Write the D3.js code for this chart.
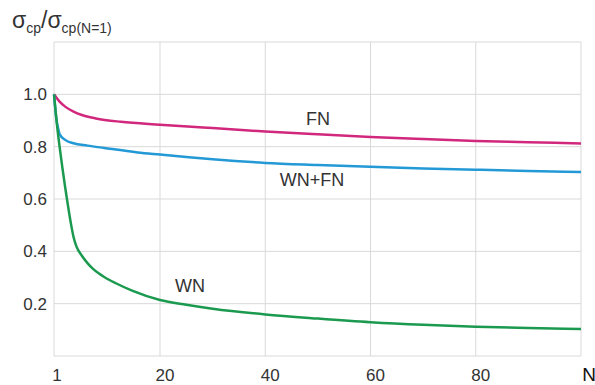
<!DOCTYPE html>
<html>
<head>
<meta charset="utf-8">
<script src="https://cdn.jsdelivr.net/npm/d3@7"></script>
<style>
  body { margin: 0; background: #fff; }
  text { font-family: "Liberation Sans", Arial, sans-serif; fill: #333; }
</style>
</head>
<body>
<div id="chart"></div>
<script>
// data
const xTicks = [1, 20, 40, 60, 80];
const yTicks = [0.2, 0.4, 0.6, 0.8, 1.0];

const nFN = [1, 2, 3, 4.5, 6, 8.5, 13, 20, 26, 30, 40, 50, 60, 70, 80, 90, 100];
const valFN = [1.0, 0.972, 0.953, 0.934, 0.921, 0.908, 0.895, 0.884, 0.876, 0.871, 0.858, 0.847, 0.837, 0.829, 0.822, 0.817, 0.812];

const nWNFN = [1, 1.4, 1.8, 2, 3, 4.5, 7, 10, 16, 20, 26, 30, 40, 50, 60, 70, 80, 90, 100];
const valWNFN = [1.0, 0.91, 0.865, 0.848, 0.826, 0.813, 0.804, 0.795, 0.778, 0.77, 0.759, 0.752, 0.738, 0.73, 0.723, 0.717, 0.712, 0.707, 0.703];

const nWN = [1, 1.5, 2, 2.5, 3, 3.5, 4, 4.5, 5, 6, 7, 8, 9, 10, 12, 15, 20, 25, 30, 40, 50, 60, 70, 80, 90, 100];
const valWN = [1.0, 0.89, 0.80, 0.72, 0.645, 0.575, 0.51, 0.455, 0.42, 0.383, 0.355, 0.333, 0.316, 0.302, 0.279, 0.25, 0.214, 0.196, 0.181, 0.159, 0.143, 0.129, 0.119, 0.112, 0.107, 0.103];

const width = 595, height = 385;

const svg = d3.select("#chart").append("svg")
  .attr("width", width)
  .attr("height", height);

// the origin is labelled 1, grid steps of 20 after that
const x = d3.scaleLinear().domain([1, 20, 100]).range([54, 160, 581]);
const y = d3.scaleLinear().domain([0, 1.2]).range([356, 42]);

const gridColor = "#d9d9d9";

// horizontal grid
svg.append("g").selectAll("line")
  .data([0, 0.2, 0.4, 0.6, 0.8, 1.0, 1.2])
  .enter().append("line")
  .attr("x1", x(1)).attr("x2", x(100))
  .attr("y1", d => y(d)).attr("y2", d => y(d))
  .attr("stroke", gridColor).attr("stroke-width", 1);

// vertical grid
svg.append("g").selectAll("line")
  .data([1, 20, 40, 60, 80, 100])
  .enter().append("line")
  .attr("x1", d => x(d)).attr("x2", d => x(d))
  .attr("y1", y(0)).attr("y2", y(1.2))
  .attr("stroke", gridColor).attr("stroke-width", 1);

// y tick labels
svg.append("g").selectAll("text")
  .data(yTicks)
  .enter().append("text")
  .attr("x", 47)
  .attr("y", d => y(d) + 6)
  .attr("text-anchor", "end")
  .style("font-size", "17px")
  .text(d => d.toFixed(1));

// x tick labels
svg.append("g").selectAll("text")
  .data(xTicks)
  .enter().append("text")
  .attr("x", d => d === 1 ? x(d) + 3 : x(d) + 5)
  .attr("y", 381)
  .attr("text-anchor", "middle")
  .style("font-size", "17px")
  .text(d => d);

svg.append("text")
  .attr("x", 589)
  .attr("y", 381)
  .attr("text-anchor", "middle")
  .style("font-size", "19px")
  .style("fill", "#111")
  .text("N");

// y title
const title = svg.append("text")
  .attr("x", 12)
  .attr("y", 28)
  .style("font-size", "23px");
title.append("tspan").text("σ");
title.append("tspan").attr("dy", 5).style("font-size", "14px").text("cp");
title.append("tspan").attr("dy", -5).text("/σ");
title.append("tspan").attr("dy", 5).style("font-size", "14px").text("cp(N=1)");

// curves
const line = d3.line()
  .x(d => x(d[0]))
  .y(d => y(d[1]))
  .curve(d3.curveMonotoneX);

const series = [
  { n: nFN, v: valFN, color: "#d1287e" },
  { n: nWNFN, v: valWNFN, color: "#2399d6" },
  { n: nWN, v: valWN, color: "#1b9a4f" }
];

svg.append("g").selectAll("path")
  .data(series)
  .enter().append("path")
  .attr("d", s => line(s.n.map((n, i) => [n, s.v[i]])))
  .attr("fill", "none")
  .attr("stroke", s => s.color)
  .attr("stroke-width", 2.5);

// curve labels
const labels = [
  { text: "FN", x: 318, y: 125 },
  { text: "WN+FN", x: 312, y: 186 },
  { text: "WN", x: 190, y: 292 }
];
svg.append("g").selectAll("text")
  .data(labels)
  .enter().append("text")
  .attr("x", d => d.x)
  .attr("y", d => d.y)
  .attr("text-anchor", "middle")
  .style("font-size", "18px")
  .text(d => d.text);
</script>
</body>
</html>
